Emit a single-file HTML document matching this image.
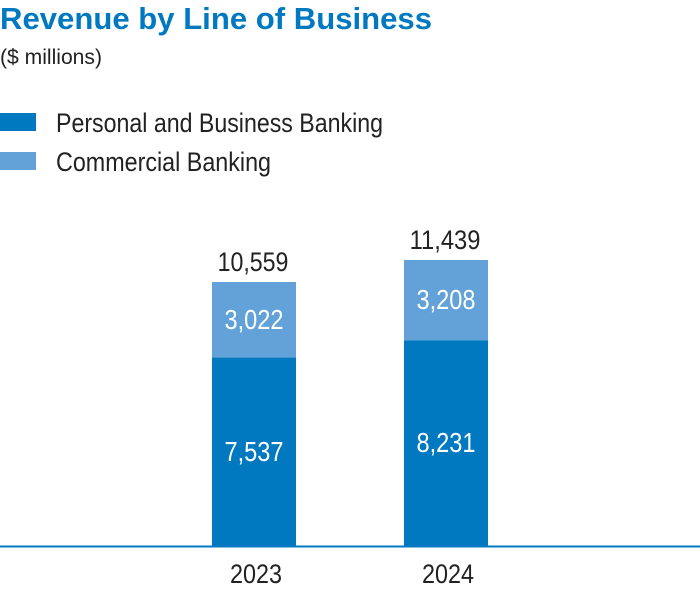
<!DOCTYPE html>
<html><head><meta charset="utf-8"><style>
body{margin:0;background:#fff;}
svg{display:block;font-family:"Liberation Sans Narrow","Liberation Sans",sans-serif;}
</style></head><body>
<svg width="700" height="592" viewBox="0 0 700 592">
<text x="0" y="29" font-size="31" font-weight="bold" fill="#0079c1" textLength="432" lengthAdjust="spacingAndGlyphs">Revenue by Line of Business</text>
<text x="0" y="64" font-size="21" fill="#222" textLength="102" lengthAdjust="spacingAndGlyphs">($ millions)</text>
<rect x="0" y="113" width="36" height="18" fill="#0079c1"/>
<text x="56" y="132" font-size="27" fill="#222" textLength="327" lengthAdjust="spacingAndGlyphs">Personal and Business Banking</text>
<rect x="0" y="152" width="36" height="18" fill="#62a2d8"/>
<text x="56" y="171" font-size="27" fill="#222" textLength="215" lengthAdjust="spacingAndGlyphs">Commercial Banking</text>
<g id="bars"></g>
<line x1="0" y1="546.5" x2="700" y2="546.5" stroke="#0079c1" stroke-width="2"/>
</svg>
<script>
const categories = ["2023", "2024"];
const personalValues = [7537, 8231];
const commercialValues = [3022, 3208];
const totalLabels = ["10,559", "11,439"];
const personalLabels = ["7,537", "8,231"];
const commercialLabels = ["3,022", "3,208"];

const baseY = 546, scale = 264 / 10559;
const xLeft = i => 212 + i * 192, barW = 84;
const y = v => baseY - v * scale;
const g = document.getElementById('bars');
const NS = 'http://www.w3.org/2000/svg';
function mk(tag, attrs, txt){const e=document.createElementNS(NS,tag);for(const k in attrs)e.setAttribute(k,attrs[k]);if(txt!==undefined)e.textContent=txt;g.appendChild(e);return e;}
const tl = s => s.length * 11.8;
categories.forEach((c,i)=>{
  const x = xLeft(i), cx = x + barW/2;
  const p = personalValues[i], m = commercialValues[i];
  let e = mk('rect',{x:x,y:y(p),width:barW,height:baseY-y(p),fill:'#0079c1'});
  
  
  e = mk('rect',{x:x,y:y(p+m),width:barW,height:y(p)-y(p+m),fill:'#62a2d8'});
  
  
  e = mk('text',{x:cx,y:(y(p)+baseY)/2+9,'font-size':28,fill:'#fff','text-anchor':'middle',textLength:tl(personalLabels[i]),lengthAdjust:'spacingAndGlyphs'},personalLabels[i]);
  
  
  e = mk('text',{x:cx,y:(y(p)+y(p+m))/2+9,'font-size':28,fill:'#fff','text-anchor':'middle',textLength:tl(commercialLabels[i]),lengthAdjust:'spacingAndGlyphs'},commercialLabels[i]);
  
  
  e = mk('text',{x:cx-1,y:y(p+m)-11,'font-size':27,fill:'#222','text-anchor':'middle',textLength:tl(totalLabels[i]),lengthAdjust:'spacingAndGlyphs'},totalLabels[i]);
  
  
  e = mk('text',{x:cx+2,y:583,'font-size':27,fill:'#222','text-anchor':'middle',textLength:52,lengthAdjust:'spacingAndGlyphs'},c);
  
  
});
</script>
</body></html>
